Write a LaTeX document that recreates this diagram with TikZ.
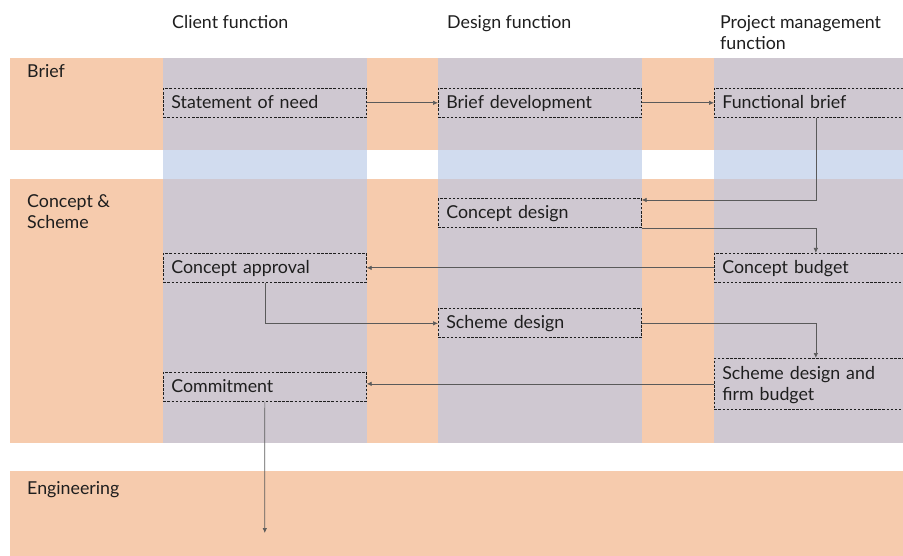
\documentclass[tikz,border=0pt]{standalone}
\usepackage{fontspec}
\setmainfont{Lato}
\usetikzlibrary{arrows.meta}
\definecolor{bandorange}{HTML}{F6CBAD}
\definecolor{lanegrey}{HTML}{CFC8D1}
\definecolor{laneblue}{HTML}{D1DCEF}
\definecolor{linegrey}{HTML}{5A5A5A}
\definecolor{inkgrey}{HTML}{1E1E1E}
\tikzset{
  stepbox/.style={draw=inkgrey, dash pattern=on 2.5pt off 1.6pt, line width=0.7pt,
    anchor=north west, minimum height=29pt, text width=187pt, inner xsep=8pt,
    text height=14pt, text depth=3pt,
    align=left, font=\fontsize{17.8}{21}\selectfont, text=inkgrey},
  flow/.style={draw=linegrey, line width=0.7pt, -{Latex[length=5pt,width=4.5pt]}},
  lbl/.style={anchor=base west, inner sep=0pt, font=\fontsize{17.8}{21}\selectfont, text=inkgrey}
}

\begin{document}
\begin{tikzpicture}[x=1pt,y=-1pt]
			%%%%% START %%%%%
			\useasboundingbox (0,0) rectangle (903,556);
			\clip (0,0) rectangle (903,556);
			
			% bands
			\fill[bandorange] (10,58) rectangle (903,150);
			\fill[bandorange] (10,179) rectangle (903,443);
			\fill[bandorange] (10,471) rectangle (903,556);
			
			% lanes
			\foreach \lx in {163,438,714} {
				\fill[lanegrey] (\lx,58) rectangle ++(203.5,92);
				\fill[laneblue] (\lx,150) rectangle ++(203.5,29);
				\fill[lanegrey] (\lx,179) rectangle ++(203.5,264);
			}
			
			% headings
			\node[lbl] (hclient) at (172,29) {Client function};
			\node[lbl] (hdesign) at (447,29) {Design function};
			\node[lbl] (hpm) at (720,29) {Project management};
			\node[lbl] (hpm2) at (720,50) {function};
			
			\node[lbl] (rbrief) at (27,78) {Brief};
			\node[lbl] (rconcept) at (27,208) {Concept \&};
			\node[lbl] (rscheme) at (27,229) {Scheme};
			\node[lbl] (reng) at (27,494) {Engineering};
			
			% boxes
			\node[stepbox] (sn) at (163,88) {Statement of need};
			\node[stepbox] (bd) at (438,88) {Brief development};
			\node[stepbox] (fb) at (714,88) {Functional brief};
			\node[stepbox] (cd) at (438,198.5) {Concept design};
			\node[stepbox] (ca) at (163,253) {Concept approval};
			\node[stepbox] (cb) at (714,253) {Concept budget};
			\node[stepbox] (sd) at (438,308.5) {Scheme design};
			\node[stepbox, minimum height=51pt, text depth=23.5pt] (sb) at (714,358) {Scheme design and\\firm budget};
			\node[stepbox] (cm) at (163,372) {Commitment};
			
			\coordinate (eng) at (264.8,533);
			
			% arrows
			\draw[flow] (sn) -- (bd);
			\draw[flow] (bd) -- (fb);
			\draw[flow] (fb.south) |- ([yshift=-1.5pt]cd.north east);
			\draw[flow] (cd.south east) -| (cb.north);
			\draw[flow] (cb) -- (ca);
			\draw[flow] (ca.south) |- (sd);
			\draw[flow] (sd) -| (sb.north);
			\draw[flow] (sb.west) -- (sb.west -| cm.east);
			\draw[flow] (cm.south) -- (eng);
			
			%%%%% END %%%%%
\end{tikzpicture}
\end{document}
